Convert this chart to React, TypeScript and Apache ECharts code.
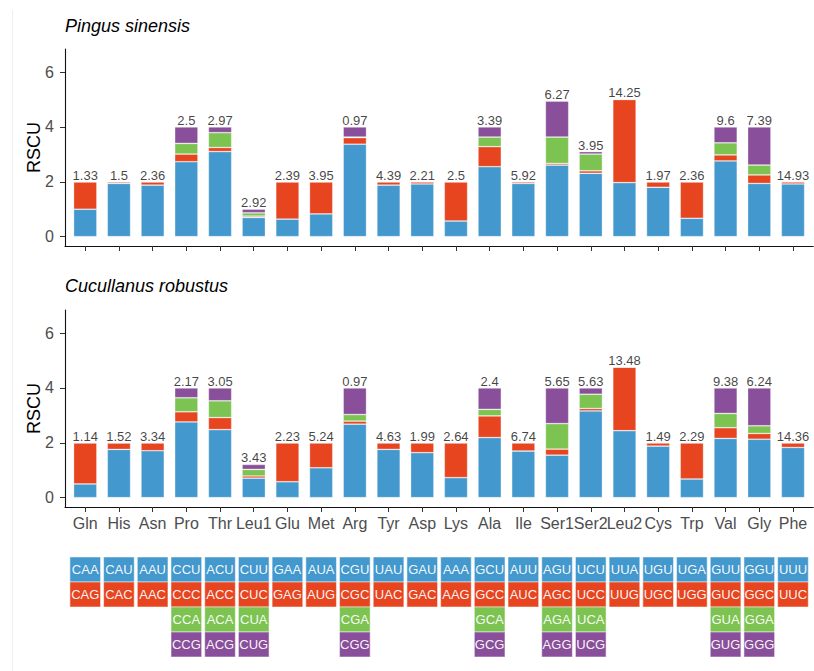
import React, { useEffect, useRef } from "react";
import * as echarts from "echarts";

const categories = ["Gln","His","Asn","Pro","Thr","Leu1","Glu","Met","Arg","Tyr","Asp","Lys","Ala","Ile","Ser1","Ser2","Leu2","Cys","Trp","Val","Gly","Phe"];

// Pingus sinensis – RSCU of codon 1..4 per amino acid
const psCodon1 = [1.0,1.94,1.88,2.73,3.10,0.70,0.64,0.83,3.37,1.88,1.92,0.57,2.55,1.94,2.61,2.31,1.97,1.80,0.67,2.76,1.94,1.92];
const psCodon2 = [1.0,0.06,0.12,0.28,0.15,0.05,1.36,1.17,0.24,0.12,0.08,1.43,0.73,0.06,0.06,0.09,3.03,0.20,1.33,0.22,0.31,0.08];
const psCodon3 = [0,0,0,0.39,0.54,0.12,0,0,0.02,0,0,0,0.35,0,0.96,0.61,0,0,0,0.44,0.36,0];
const psCodon4 = [0,0,0,0.60,0.21,0.13,0,0,0.37,0,0,0,0.37,0,1.31,0.09,0,0,0,0.58,1.39,0];
const psLabels = ["1.33","1.5","2.36","2.5","2.97","2.92","2.39","3.95","0.97","4.39","2.21","2.5","3.39","5.92","6.27","3.95","14.25","1.97","2.36","9.6","7.39","14.93"];

// Cucullanus robustus
const crCodon1 = [0.50,1.76,1.71,2.76,2.48,0.71,0.58,1.09,2.68,1.76,1.64,0.73,2.19,1.70,1.55,3.16,2.44,1.88,0.68,2.16,2.13,1.83];
const crCodon2 = [1.50,0.24,0.29,0.37,0.44,0.08,1.42,0.91,0.11,0.24,0.36,1.27,0.79,0.30,0.22,0.09,2.32,0.12,1.32,0.39,0.21,0.17];
const crCodon3 = [0,0,0,0.51,0.61,0.24,0,0,0.24,0,0,0,0.24,0,0.93,0.52,0,0,0,0.52,0.28,0];
const crCodon4 = [0,0,0,0.36,0.47,0.18,0,0,0.97,0,0,0,0.78,0,1.30,0.23,0,0,0,0.93,1.38,0];
const crLabels = ["1.14","1.52","3.34","2.17","3.05","3.43","2.23","5.24","0.97","4.63","1.99","2.64","2.4","6.74","5.65","5.63","13.48","1.49","2.29","9.38","6.24","14.36"];

// codon table rows
const codonRow1 = ["CAA","CAU","AAU","CCU","ACU","CUU","GAA","AUA","CGU","UAU","GAU","AAA","GCU","AUU","AGU","UCU","UUA","UGU","UGA","GUU","GGU","UUU"];
const codonRow2 = ["CAG","CAC","AAC","CCC","ACC","CUC","GAG","AUG","CGC","UAC","GAC","AAG","GCC","AUC","AGC","UCC","UUG","UGC","UGG","GUC","GGC","UUC"];
const codonRow3 = ["","","","CCA","ACA","CUA","","","CGA","","","","GCA","","AGA","UCA","","","","GUA","GGA",""];
const codonRow4 = ["","","","CCG","ACG","CUG","","","CGG","","","","GCG","","AGG","UCG","","","","GUG","GGG",""];

const yTicks = [0, 2, 4, 6];
const titles = ["Pingus sinensis", "Cucullanus robustus"];

const COLORS = ["#4398cd", "#e64520", "#7dc352", "#8a4f9b"];
const FONT = "'Liberation Sans', Arial, Helvetica, sans-serif";

export default function App() {
  const ref = useRef<HTMLDivElement>(null);
  useEffect(() => {
    if (!ref.current) return;
    const chart = echarts.init(ref.current, undefined, { renderer: "svg" });
    const idx = categories.map((_, i) => i);
    const panels = [
      { codons: [psCodon1, psCodon2, psCodon3, psCodon4], labels: psLabels, top: 49 },
      { codons: [crCodon1, crCodon2, crCodon3, crCodon4], labels: crLabels, top: 310 },
    ];
    const axLeft = 65;
    const axWidth = 748.2;
    const unit = axWidth / 22.2;
    const barLeft = axLeft + 0.1 * unit;
    const barWidthGrid = 22 * unit;
    const panelH = 197;

    const grids: any[] = [];
    const xAxes: any[] = [];
    const yAxes: any[] = [];
    const series: any[] = [];

    panels.forEach((panel, p) => {
      const gA = grids.length;
      grids.push({ left: axLeft, width: axWidth, top: panel.top, height: panelH });
      xAxes.push({
        type: "value",
        gridIndex: gA,
        min: -0.6,
        max: 21.6,
        axisLine: { show: true, onZero: false, lineStyle: { color: "#111", width: 1.1 } },
        axisTick: { show: true, length: 5, lineStyle: { color: "#333" }, customValues: idx },
        axisLabel: {
          show: p === 1,
          customValues: idx,
          formatter: (v: number) => categories[Math.round(v)] ?? "",
          color: "#4d4d4d",
          fontSize: 16,
          margin: 8,
          fontFamily: FONT,
        },
        splitLine: { show: false },
      });
      yAxes.push({
        type: "value",
        gridIndex: gA,
        min: -0.34,
        max: 6.84,
        name: "RSCU",
        nameLocation: "middle",
        nameGap: 22,
        nameMoveOverlap: false,
        nameTextStyle: { fontSize: 18, color: "#000", fontFamily: FONT },
        axisLine: { show: true, onZero: false, lineStyle: { color: "#111", width: 1.1 } },
        axisTick: { show: true, length: 5, lineStyle: { color: "#333" }, customValues: yTicks },
        axisLabel: { customValues: yTicks, color: "#4d4d4d", fontSize: 16, margin: 11, fontFamily: FONT },
        splitLine: { show: false },
      });
      const gB = grids.length;
      grids.push({ left: barLeft, width: barWidthGrid, top: panel.top, height: panelH });
      xAxes.push({ type: "category", gridIndex: gB, data: categories, show: false });
      yAxes.push({ type: "value", gridIndex: gB, min: -0.34, max: 6.84, show: false });

      panel.codons.forEach((vals, k) => {
        series.push({
          type: "bar",
          xAxisIndex: gB,
          yAxisIndex: gB,
          stack: "s" + p,
          barWidth: 23.3,
          data: vals,
          itemStyle: { color: COLORS[k], borderColor: "rgba(255,255,255,0.45)", borderWidth: 0.7 },
          silent: true,
        });
      });
      series.push({
        type: "scatter",
        xAxisIndex: gB,
        yAxisIndex: gB,
        symbolSize: 0,
        data: idx.map((i) => [i, panel.codons.reduce((s, arr) => s + arr[i], 0), panel.labels[i]]),
        label: {
          show: true,
          position: "top",
          distance: 0,
          formatter: (d: any) => d.value[2],
          fontSize: 13,
          color: "#111",
          fontFamily: FONT,
        },
        silent: true,
      });
    });

    const gT = grids.length;
    grids.push({ left: axLeft, width: axWidth, top: 557, height: 100 });
    xAxes.push({ type: "value", gridIndex: gT, min: -0.6, max: 21.6, show: false });
    yAxes.push({ type: "category", gridIndex: gT, data: ["1", "2", "3", "4"], inverse: true, show: false });

    [codonRow1, codonRow2, codonRow3, codonRow4].forEach((row, r) => {
      series.push({
        type: "scatter",
        xAxisIndex: gT,
        yAxisIndex: gT,
        symbol: "rect",
        symbolSize: [30.7, 25],
        data: row.map((c, i) => [i, r, c]).filter((d) => d[2] !== ""),
        itemStyle: { color: COLORS[r], borderColor: "rgba(255,255,255,0.5)", borderWidth: 1, opacity: 1 },
        label: {
          show: true,
          position: "inside",
          formatter: (d: any) => d.value[2],
          color: "rgba(255,255,255,0.95)",
          fontSize: 13,
          fontFamily: FONT,
        },
        silent: true,
      });
    });

    chart.setOption({
      animation: false,
      backgroundColor: "#ffffff",
      textStyle: { fontFamily: FONT },
      title: titles.map((t, i) => ({
        text: t,
        left: 65,
        top: i === 0 ? 17 : 277,
        padding: 0,
        textStyle: { fontStyle: "italic", fontWeight: "normal", fontSize: 18, color: "#000", fontFamily: FONT },
      })),
      grid: grids,
      xAxis: xAxes,
      yAxis: yAxes,
      series,
      graphic: [
        { type: "line", shape: { x1: 12.5, y1: 10, x2: 12.5, y2: 671 }, style: { stroke: "#eeeeee", lineWidth: 1 }, silent: true },
      ],
    });
    return () => chart.dispose();
  }, []);
  return <div ref={ref} style={{ position: "absolute", left: 0, top: 0, width: 814, height: 671 }} />;
}
